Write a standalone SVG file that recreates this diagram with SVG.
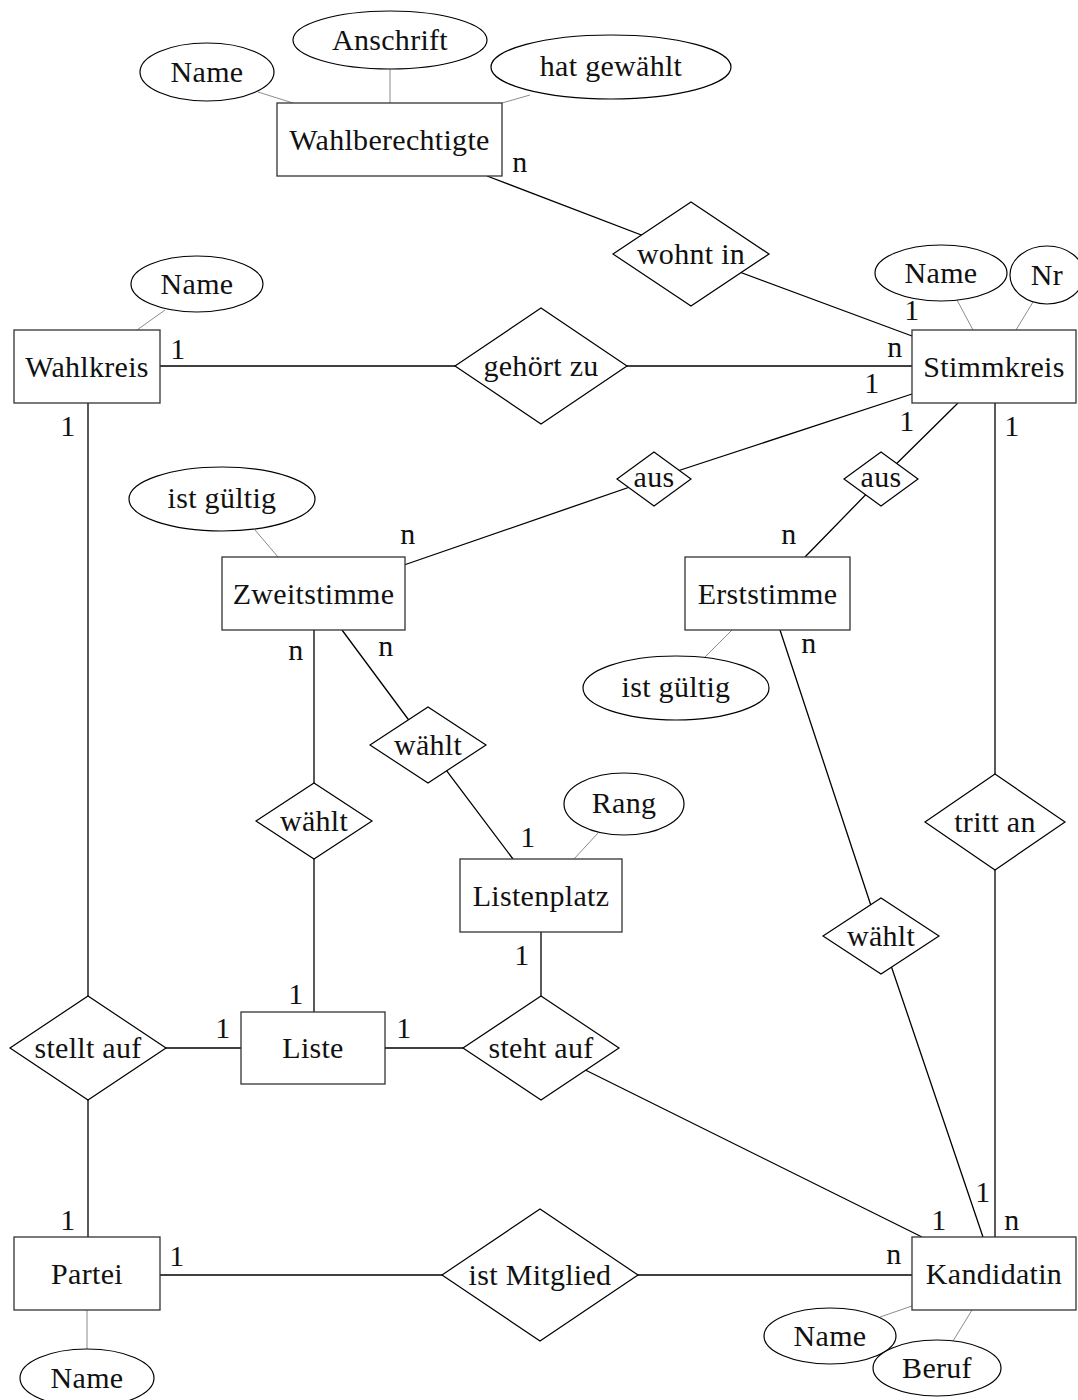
<svg xmlns="http://www.w3.org/2000/svg" width="1078" height="1400" viewBox="0 0 1078 1400">
  <style>
    .ent { fill: #fff; stroke: #333; stroke-width: 1.3; }
    .rel { fill: #fff; stroke: #000; stroke-width: 1.2; }
    .att { fill: #fff; stroke: #000; stroke-width: 1.2; }
    .link { stroke: #000; stroke-width: 1.3; fill: none; }
    .alink { stroke: #8c8c8c; stroke-width: 1; fill: none; }
    text { font-family: "Liberation Serif", "DejaVu Serif", serif; font-size: 30px; fill: #111; text-anchor: middle; letter-spacing: 0.3px; }
  </style>
  <rect width="1078" height="1400" fill="#fff"/>

  <!-- relationship and attribute connectors (nodes are painted on top) -->
  <g id="connectors">
    <polyline class="link" points="487,176 691,254 912,336"/>
    <line class="link" x1="160" y1="366" x2="912" y2="366"/>
    <polyline class="link" points="912,394 653,479 404,565"/>
    <polyline class="link" points="958,403 881,479 805,557"/>
    <line class="link" x1="995" y1="403" x2="995" y2="1237"/>
    <line class="link" x1="88" y1="403" x2="88" y2="1237"/>
    <line class="link" x1="88" y1="1048" x2="241" y2="1048"/>
    <line class="link" x1="385" y1="1048" x2="541" y2="1048"/>
    <line class="link" x1="541" y1="932" x2="541" y2="1048"/>
    <line class="link" x1="541" y1="1048" x2="922" y2="1237"/>
    <line class="link" x1="314" y1="630" x2="314" y2="1012"/>
    <polyline class="link" points="342,630 428,746 513,859"/>
    <polyline class="link" points="780,630 881,936 983,1237"/>
    <line class="link" x1="160" y1="1275" x2="912" y2="1275"/>

    <line class="alink" x1="258" y1="92" x2="293" y2="103"/>
    <line class="alink" x1="390" y1="69" x2="390" y2="103"/>
    <line class="alink" x1="530" y1="95" x2="502" y2="103"/>
    <line class="alink" x1="165" y1="310" x2="137" y2="330"/>
    <line class="alink" x1="957" y1="300" x2="973" y2="330"/>
    <line class="alink" x1="1033" y1="302" x2="1016" y2="330"/>
    <line class="alink" x1="255" y1="530" x2="278" y2="557"/>
    <line class="alink" x1="732" y1="630" x2="705" y2="657"/>
    <line class="alink" x1="598" y1="833" x2="574" y2="859"/>
    <line class="alink" x1="880" y1="1317" x2="912" y2="1306"/>
    <line class="alink" x1="953" y1="1341" x2="972" y2="1310"/>
    <line class="alink" x1="87" y1="1310" x2="87" y2="1349"/>
  </g>

  <!-- entities -->
  <g id="wahlberechtigte">
    <rect class="ent" x="277" y="103" width="225" height="73"/>
    <text x="389.5" y="149.5">Wahlberechtigte</text>
  </g>
  <g id="wahlkreis">
    <rect class="ent" x="14" y="330" width="146" height="73"/>
    <text x="87" y="376.5">Wahlkreis</text>
  </g>
  <g id="stimmkreis">
    <rect class="ent" x="912" y="330" width="164" height="73"/>
    <text x="994" y="376.5">Stimmkreis</text>
  </g>
  <g id="zweitstimme">
    <rect class="ent" x="222" y="557" width="183" height="73"/>
    <text x="313.5" y="603.5">Zweitstimme</text>
  </g>
  <g id="erststimme">
    <rect class="ent" x="685" y="557" width="165" height="73"/>
    <text x="767.5" y="603.5">Erststimme</text>
  </g>
  <g id="listenplatz">
    <rect class="ent" x="460" y="859" width="162" height="73"/>
    <text x="541" y="905.5">Listenplatz</text>
  </g>
  <g id="liste">
    <rect class="ent" x="241" y="1012" width="144" height="72"/>
    <text x="313" y="1058">Liste</text>
  </g>
  <g id="partei">
    <rect class="ent" x="14" y="1237" width="146" height="73"/>
    <text x="87" y="1283.5">Partei</text>
  </g>
  <g id="kandidatin">
    <rect class="ent" x="912" y="1237" width="164" height="73"/>
    <text x="994" y="1283.5">Kandidatin</text>
  </g>

  <!-- relationships -->
  <g id="wohnt-in">
    <polygon class="rel" points="613,254 691,202 769,254 691,306"/>
    <text x="691" y="264">wohnt in</text>
  </g>
  <g id="gehoert-zu">
    <polygon class="rel" points="455,366 541,308 627,366 541,424"/>
    <text x="541" y="376">gehört zu</text>
  </g>
  <g id="aus-zweit">
    <polygon class="rel" points="617,479 654,452 691,479 654,506"/>
    <text x="654" y="487">aus</text>
  </g>
  <g id="aus-erst">
    <polygon class="rel" points="844,479 881,452 918,479 881,506"/>
    <text x="881" y="487">aus</text>
  </g>
  <g id="waehlt-listenplatz">
    <polygon class="rel" points="370,745 428,707 486,745 428,783"/>
    <text x="428" y="755">wählt</text>
  </g>
  <g id="waehlt-liste">
    <polygon class="rel" points="256,821 314,783 372,821 314,859"/>
    <text x="314" y="831">wählt</text>
  </g>
  <g id="waehlt-kandidatin">
    <polygon class="rel" points="823,936 881,898 939,936 881,974"/>
    <text x="881" y="946">wählt</text>
  </g>
  <g id="tritt-an">
    <polygon class="rel" points="925,822 995,774 1065,822 995,870"/>
    <text x="995" y="832">tritt an</text>
  </g>
  <g id="stellt-auf">
    <polygon class="rel" points="10,1048 88,996 166,1048 88,1100"/>
    <text x="88" y="1058">stellt auf</text>
  </g>
  <g id="steht-auf">
    <polygon class="rel" points="463,1048 541,996 619,1048 541,1100"/>
    <text x="541" y="1058">steht auf</text>
  </g>
  <g id="ist-mitglied">
    <polygon class="rel" points="442,1275 540,1209 638,1275 540,1341"/>
    <text x="540" y="1285">ist Mitglied</text>
  </g>

  <!-- attributes -->
  <g id="attr-wb-name">
    <ellipse class="att" cx="207" cy="72" rx="67" ry="29"/>
    <text x="207" y="82">Name</text>
  </g>
  <g id="attr-wb-anschrift">
    <ellipse class="att" cx="390" cy="40" rx="97" ry="29"/>
    <text x="390" y="50">Anschrift</text>
  </g>
  <g id="attr-wb-hat-gewaehlt">
    <ellipse class="att" cx="611" cy="67" rx="120" ry="32"/>
    <text x="611" y="76">hat gewählt</text>
  </g>
  <g id="attr-wk-name">
    <ellipse class="att" cx="197" cy="284" rx="66" ry="28"/>
    <text x="197" y="294">Name</text>
  </g>
  <g id="attr-sk-name">
    <ellipse class="att" cx="941" cy="273" rx="66" ry="28"/>
    <text x="941" y="283">Name</text>
  </g>
  <g id="attr-sk-nr">
    <ellipse class="att" cx="1047" cy="275" rx="37" ry="29"/>
    <text x="1047" y="285">Nr</text>
  </g>
  <g id="attr-zs-gueltig">
    <ellipse class="att" cx="222" cy="499" rx="93" ry="32"/>
    <text x="222" y="508">ist gültig</text>
  </g>
  <g id="attr-es-gueltig">
    <ellipse class="att" cx="676" cy="688" rx="93" ry="32"/>
    <text x="676" y="697">ist gültig</text>
  </g>
  <g id="attr-lp-rang">
    <ellipse class="att" cx="624" cy="804" rx="60" ry="31"/>
    <text x="624" y="813">Rang</text>
  </g>
  <g id="attr-kd-name">
    <ellipse class="att" cx="830" cy="1336" rx="66" ry="28"/>
    <text x="830" y="1346">Name</text>
  </g>
  <g id="attr-kd-beruf">
    <ellipse class="att" cx="937" cy="1368" rx="64" ry="28"/>
    <text x="937" y="1378">Beruf</text>
  </g>
  <g id="attr-pt-name">
    <ellipse class="att" cx="87" cy="1378" rx="67" ry="29"/>
    <text x="87" y="1388">Name</text>
  </g>

  <!-- cardinalities -->
  <g id="cardinalities">
    <text x="520" y="172">n</text>
    <text x="912" y="320">1</text>
    <text x="895" y="357">n</text>
    <text x="872" y="393">1</text>
    <text x="907" y="431">1</text>
    <text x="1012" y="436">1</text>
    <text x="178" y="359">1</text>
    <text x="68" y="436">1</text>
    <text x="408" y="544">n</text>
    <text x="789" y="544">n</text>
    <text x="296" y="660">n</text>
    <text x="386" y="656">n</text>
    <text x="809" y="653">n</text>
    <text x="528" y="847">1</text>
    <text x="522" y="965">1</text>
    <text x="296" y="1004">1</text>
    <text x="223" y="1038">1</text>
    <text x="404" y="1038">1</text>
    <text x="68" y="1230">1</text>
    <text x="177" y="1266">1</text>
    <text x="983" y="1202">1</text>
    <text x="939" y="1230">1</text>
    <text x="1012" y="1230">n</text>
    <text x="894" y="1264">n</text>
  </g>
</svg>
